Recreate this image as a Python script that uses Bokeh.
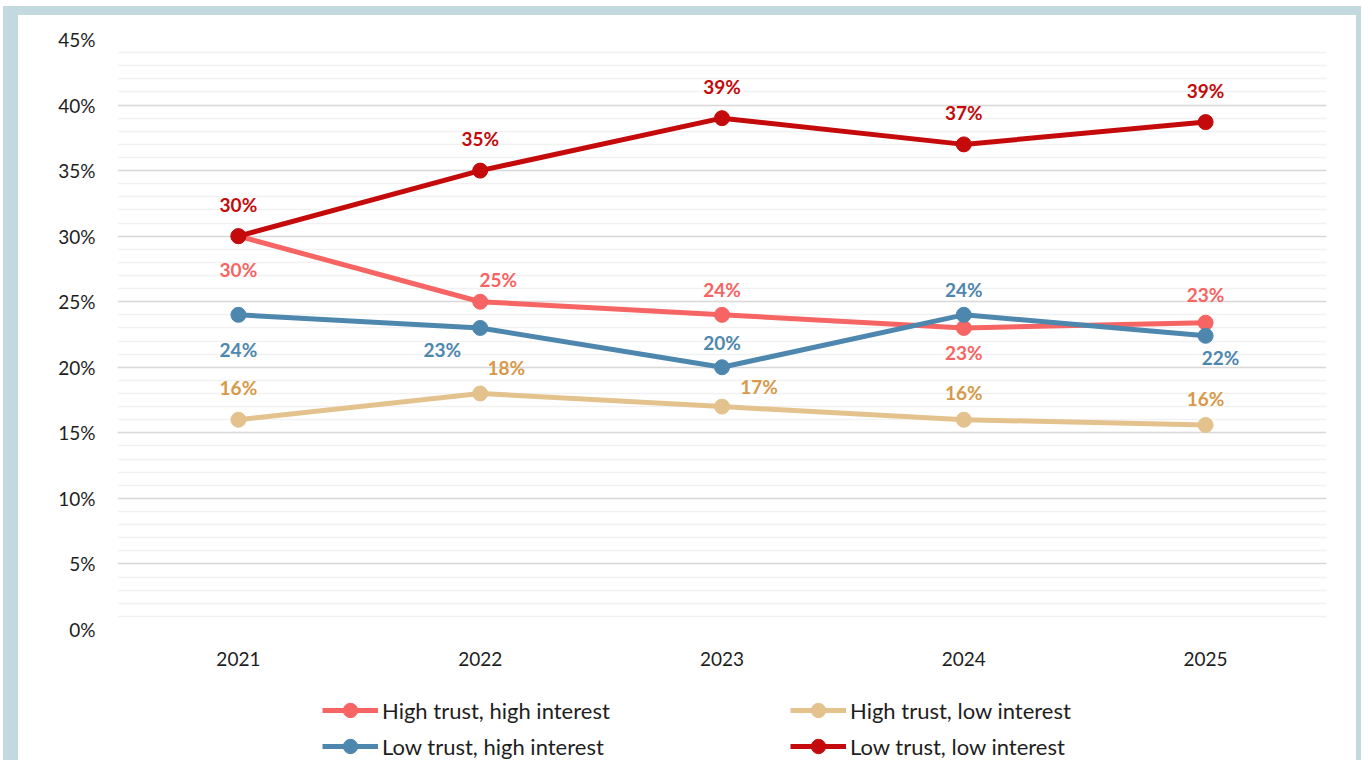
from bokeh.plotting import figure
from bokeh.models import (FactorRange, Range1d, SingleIntervalTicker, PrintfTickFormatter,
                          Legend, LegendItem, ColumnDataSource, LabelSet, Column)
from bokeh.embed import file_html
from bokeh.resources import INLINE
from bokeh.core.properties import value

years = ["2021", "2022", "2023", "2024", "2025"]
high_trust_high_interest = [30, 25, 24, 23, 23.4]
high_trust_low_interest = [16, 18, 17, 16, 15.6]
low_trust_high_interest = [24, 23, 20, 24, 22.4]
low_trust_low_interest = [30, 35, 39, 37, 38.7]

series_names = ["High trust, high interest", "High trust, low interest",
                "Low trust, high interest", "Low trust, low interest"]

FONT = "Lato"
FRAME_BLUE = "#C2DADF"
line_colors = ["#F66464", "#E4C28E", "#4E87AE", "#C40A0A"]
label_colors = ["#F66464", "#D7994A", "#4E87AE", "#C40A0A"]
# label offsets in screen px (dx, dy) per point, dy positive = down
offsets = [
    [(0, 33), (18, -22), (0, -25), (0, 25), (0, -28)],
    [(0, -32), (26, -26), (37, -20), (0, -27), (0, -26)],
    [(0, 35), (-38, 22), (0, -25), (0, -25), (15, 22)],
    [(0, -32), (0, -32), (0, -32), (0, -32), (0, -32)],
]
all_values = [high_trust_high_interest, high_trust_low_interest,
              low_trust_high_interest, low_trust_low_interest]

# ---- main chart ----
p = figure(x_range=FactorRange(*years), y_range=Range1d(0, 45),
           width=1338, height=675, output_backend="svg", toolbar_location=None,
           min_border_left=99, min_border_right=30, min_border_top=24, min_border_bottom=61)
p.outline_line_color = None
p.background_fill_color = "white"
p.border_fill_color = "white"
p.xgrid.grid_line_color = None
p.yaxis.ticker = SingleIntervalTicker(interval=5, num_minor_ticks=5)
p.ygrid.grid_line_color = "#D9D9D9"
p.ygrid.grid_line_width = 1.5
p.ygrid.minor_grid_line_color = "#F1F1F1"
p.ygrid.minor_grid_line_width = 1.5
p.yaxis.formatter = PrintfTickFormatter(format="%d%%")
for ax in (p.xaxis, p.yaxis):
    ax.axis_line_color = None
    ax.major_tick_line_color = None
    ax.minor_tick_line_color = None
    ax.major_label_text_font = FONT
    ax.major_label_text_font_size = "19px"
    ax.major_label_text_color = "#1E1E1E"
p.yaxis.major_label_standoff = 16
p.xaxis.major_label_standoff = 16

for name, vals, lc, tc, offs in zip(series_names, all_values, line_colors, label_colors, offsets):
    src = ColumnDataSource(dict(
        x=years, y=vals,
        txt=[f"{round(v)}%" for v in vals],
        dx=[o[0] for o in offs], dy=[-o[1] for o in offs]))
    p.line("x", "y", source=src, line_color=lc, line_width=5)
    p.scatter("x", "y", source=src, size=15, fill_color=lc, line_color=lc)
    p.add_layout(LabelSet(x="x", y="y", text="txt", source=src, x_offset="dx", y_offset="dy",
                          text_align="center", text_baseline="middle",
                          text_font=value(FONT), text_font_style="bold",
                          text_font_size="19px", text_color=tc))

# ---- legend strip: a second figure whose view range hides the series ----
lf = figure(x_range=FactorRange(*years), y_range=Range1d(-2, -1), width=1338, height=70,
            output_backend="svg", toolbar_location=None,
            min_border_left=0, min_border_right=0, min_border_top=0, min_border_bottom=0)
lf.axis.visible = False
lf.grid.visible = False
lf.outline_line_color = None
lf.background_fill_color = "white"
lf.border_fill_color = "white"

legend_items = []
for name, vals, lc in zip(series_names, all_values, line_colors):
    r1 = lf.line(years, vals, line_color=lc, line_width=5)
    r2 = lf.scatter(years, vals, size=15, fill_color=lc, line_color=lc)
    legend_items.append(LegendItem(label=name, renderers=[r1, r2]))

def make_legend(its, loc):
    lg = Legend(items=its, location=loc, orientation="vertical")
    lg.border_line_color = None
    lg.background_fill_alpha = 0
    lg.label_text_font = FONT
    lg.label_text_font_size = "22px"
    lg.label_text_color = "#1E1E1E"
    lg.glyph_width = 56
    lg.glyph_height = 36
    lg.label_height = 36
    lg.label_standoff = 4
    lg.spacing = 0
    lg.padding = 0
    lg.margin = 0
    return lg

lf.add_layout(make_legend([legend_items[0], legend_items[2]], (205, -4)))
lf.add_layout(make_legend([legend_items[1], legend_items[3]], (673, -4)))

inner = Column(p, lf, spacing=0,
               styles={"background-color": "white",
                       "border-left": f"15px solid {FRAME_BLUE}",
                       "border-top": f"9px solid {FRAME_BLUE}",
                       "border-right": f"5px solid {FRAME_BLUE}"})
outer = Column(inner, styles={"background-color": "white", "padding": "6px 0px 0px 3px"})
open("out.html", "w").write(file_html(outer, INLINE))
